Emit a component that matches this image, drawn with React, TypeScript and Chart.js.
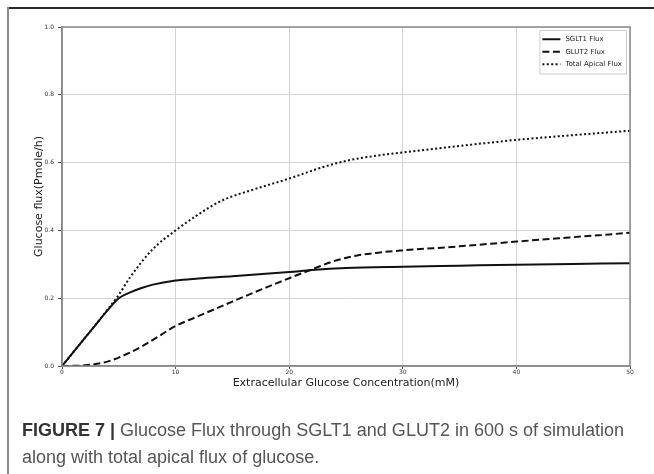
import React, { useEffect, useRef } from "react";
import { Chart, registerables } from "chart.js";

Chart.register(...registerables);

// ---- data ----
const seriesNames = ["SGLT1 Flux", "GLUT2 Flux", "Total Apical Flux"];

const sglt1X = [0, 1, 2, 3, 4, 5, 6, 7, 8, 10, 12, 15, 20, 22, 25, 30, 35, 40, 45, 50];
const sglt1Y = [0, 0.041, 0.082, 0.123, 0.164, 0.2, 0.217, 0.23, 0.24, 0.252, 0.258, 0.265, 0.277, 0.283, 0.289, 0.293, 0.296, 0.299, 0.301, 0.303];

const glut2X = [0, 2, 4, 6, 8, 10, 12, 15, 18, 20, 22, 24, 26, 28, 30, 35, 40, 45, 50];
const glut2Y = [0, 0.002, 0.013, 0.04, 0.077, 0.118, 0.147, 0.19, 0.232, 0.259, 0.285, 0.31, 0.326, 0.335, 0.341, 0.353, 0.367, 0.38, 0.393];

const totalX = [0, 2, 4, 5, 6, 8, 10, 12, 14, 17, 20, 23, 25, 28, 30, 35, 40, 45, 50];
const totalY = [0, 0.082, 0.166, 0.21, 0.262, 0.345, 0.4, 0.447, 0.487, 0.522, 0.553, 0.587, 0.605, 0.622, 0.63, 0.649, 0.667, 0.681, 0.694];

const xTickValues = [0, 10, 20, 30, 40, 50];
const xTickLabels = ["0", "10", "20", "30", "40", "50"];
const yTickValues = [0, 0.2, 0.4, 0.6, 0.8, 1.0];
const yTickLabels = ["0.0", "0.2", "0.4", "0.6", "0.8", "1.0"];

const xTitle = "Extracellular Glucose Concentration(mM)";
const yTitle = "Glucose flux(Pmole/h)";
const captionBold = "FIGURE 7 |";
const captionLine1 = " Glucose Flux through SGLT1 and GLUT2 in 600 s of simulation";
const captionLine2 = "along with total apical flux of glucose.";

const toPoints = (xs: number[], ys: number[]) => xs.map((x, i) => ({ x, y: ys[i] }));

const AXIS_FONT = "'DejaVu Sans', sans-serif";

const boxPlugin = {
  id: "plotBox",
  afterDatasetsDraw(chart: any) {
    const { ctx, chartArea: a } = chart;
    ctx.save();
    ctx.strokeStyle = "#8a8a8a";
    ctx.lineWidth = 1.5;
    ctx.strokeRect(a.left, a.top, a.right - a.left, a.bottom - a.top);
    ctx.restore();
  },
};

const legendPlugin = {
  id: "innerLegend",
  afterDraw(chart: any) {
    const { ctx, chartArea: a } = chart;
    const ds = chart.data.datasets;
    ctx.save();
    ctx.font = `7px ${AXIS_FONT}`;
    let maxW = 0;
    ds.forEach((d: any) => (maxW = Math.max(maxW, ctx.measureText(d.label).width)));
    const pad = 3;
    const sample = 18;
    const gap = 5;
    const rowH = 12.5;
    const w = pad + sample + gap + maxW + pad + 1;
    const h = pad * 2 + rowH * ds.length;
    const x0 = a.right - 4 - w;
    const y0 = a.top + 3;
    ctx.fillStyle = "rgba(255,255,255,0.9)";
    ctx.strokeStyle = "#cccccc";
    ctx.lineWidth = 1;
    ctx.beginPath();
    ctx.rect(x0 + 0.5, y0 + 0.5, w, h);
    ctx.fill();
    ctx.stroke();
    ds.forEach((d: any, i: number) => {
      const cy = y0 + pad + rowH * i + rowH / 2;
      ctx.strokeStyle = d.borderColor;
      ctx.lineWidth = d.borderWidth;
      ctx.setLineDash(d.borderDash || []);
      ctx.beginPath();
      ctx.moveTo(x0 + pad, cy);
      ctx.lineTo(x0 + pad + sample, cy);
      ctx.stroke();
      ctx.setLineDash([]);
      ctx.fillStyle = "#222";
      ctx.textBaseline = "middle";
      ctx.textAlign = "left";
      ctx.fillText(d.label, x0 + pad + sample + gap, cy);
    });
    ctx.restore();
  },
};

export default function App() {
  const ref = useRef<HTMLCanvasElement | null>(null);

  useEffect(() => {
    if (!ref.current) return;
    const common = {
      borderColor: "#111",
      backgroundColor: "#111",
      borderWidth: 2,
      pointRadius: 0,
      fill: false,
      cubicInterpolationMode: "monotone" as const,
    };
    const chart = new Chart(ref.current, {
      type: "line",
      data: {
        datasets: [
          { ...common, label: seriesNames[0], data: toPoints(sglt1X, sglt1Y) },
          { ...common, label: seriesNames[1], data: toPoints(glut2X, glut2Y), borderDash: [7, 3.5] },
          { ...common, label: seriesNames[2], data: toPoints(totalX, totalY), borderDash: [2, 2.4] },
        ],
      },
      options: {
        animation: false,
        responsive: false,
        maintainAspectRatio: false,
        layout: { padding: { left: 28, right: 24, top: 27, bottom: 78 } },
        plugins: { legend: { display: false }, tooltip: { enabled: false } },
        scales: {
          x: {
            type: "linear",
            min: 0,
            max: 50,
            afterBuildTicks: (s: any) => {
              s.ticks = xTickValues.map((v) => ({ value: v }));
            },
            afterFit: (s: any) => {
              s.height = 30;
            },
            ticks: {
              autoSkip: false,
              maxRotation: 0,
              padding: 0,
              color: "#333",
              font: { family: AXIS_FONT, size: 6 },
              callback: (v: any) => xTickLabels[xTickValues.indexOf(Number(v))] ?? "",
            },
            grid: { color: "#d4d4d4", lineWidth: 1, tickColor: "#555", tickLength: 3 },
            border: { color: "#8a8a8a", width: 1.5 },
            title: {
              display: true,
              text: xTitle,
              color: "#222",
              font: { family: AXIS_FONT, size: 11 },
              padding: { top: 0, bottom: 6 },
            },
          },
          y: {
            type: "linear",
            min: 0,
            max: 1,
            afterBuildTicks: (s: any) => {
              s.ticks = yTickValues.map((v) => ({ value: v }));
            },
            afterFit: (s: any) => {
              s.width = 34;
            },
            ticks: {
              autoSkip: false,
              padding: 4,
              color: "#333",
              font: { family: AXIS_FONT, size: 6 },
              callback: (v: any) => {
                const i = yTickValues.findIndex((t) => Math.abs(t - Number(v)) < 1e-9);
                return i >= 0 ? yTickLabels[i] : "";
              },
            },
            grid: { color: "#d4d4d4", lineWidth: 1, tickColor: "#555", tickLength: 4 },
            border: { color: "#8a8a8a", width: 1.5 },
            title: {
              display: true,
              text: yTitle,
              color: "#222",
              font: { family: AXIS_FONT, size: 11 },
              padding: { top: 5, bottom: 0 },
            },
          },
        },
      },
      plugins: [boxPlugin, legendPlugin],
    });
    return () => chart.destroy();
  }, []);

  return (
    <div style={{ position: "fixed", left: 0, top: 0, width: 654, height: 474, background: "#fff", overflow: "hidden" }}>
      <div style={{ position: "absolute", left: 7, top: 7, width: 647, height: 2, background: "#2a2a2a" }} />
      <div style={{ position: "absolute", left: 7, top: 7, width: 1.5, height: 467, background: "#8c8c8c" }} />
      <canvas ref={ref} width={654} height={474} style={{ position: "absolute", left: 0, top: 0, width: 654, height: 474 }} />
      <div
        style={{
          position: "absolute",
          left: 22,
          top: 417,
          whiteSpace: "nowrap",
          fontFamily: "'Liberation Sans', Arial, sans-serif",
          fontSize: 18,
          lineHeight: "27px",
          color: "#555",
        }}
      >
        <span style={{ fontWeight: "bold", color: "#333" }}>{captionBold}</span>
        {captionLine1}
        <br />
        {captionLine2}
      </div>
    </div>
  );
}
